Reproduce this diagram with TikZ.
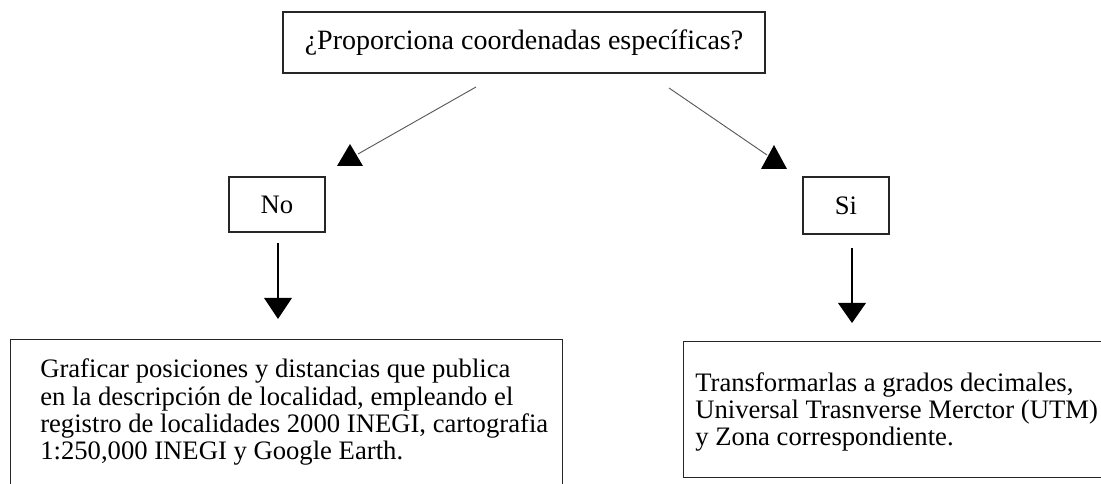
\documentclass[tikz,border=0pt]{standalone}
\usepackage{fontspec}
\setmainfont{Liberation Serif}
\usetikzlibrary{calc}
\begin{document}
\begin{tikzpicture}[x=0.75pt,y=-0.75pt,
  box/.style={draw=black!85, line width=0.9pt, inner sep=0pt},
  diag/.style={draw=black!65, line width=0.7pt},
  vert/.style={draw=black, line width=0.9pt},
  head/.style={fill=black},
  lbl/.style={font=\fontsize{20}{20}\selectfont},
  body/.style={font=\fontsize{20}{20.5}\selectfont, align=left, inner sep=0pt}]
\useasboundingbox (0,0) rectangle (1101,484);
\clip (0,0) rectangle (1101,484);
% question
\node[box, minimum width=361.5pt, minimum height=45.75pt, font=\fontsize{21}{24}\selectfont] (q) at (524,42.5) {¿Proporciona coordenadas específicas?};
% answers
\node[box, minimum width=72pt, minimum height=41.25pt, lbl] (no) at (277,204.5) {No};
\node[box, minimum width=64.5pt, minimum height=42.75pt, lbl] (si) at (846,205.5) {Si};
% result boxes
\node[box, anchor=north west, minimum width=414pt, minimum height=120pt] (lbox) at (10,339) {};
\node[body, anchor=base west] (ltext) at (40,460) {Graficar posiciones y distancias que publica\\
en la descripción de localidad, empleando el\\
registro de localidades 2000 INEGI, cartografia\\
1:250,000 INEGI y Google Earth.};
\node[box, anchor=north west, minimum width=330pt, minimum height=102pt] (rbox) at (683,341) {};
\node[body, anchor=base west] (rtext) at (695,446) {Transformarlas a grados decimales,\\
Universal Trasnverse Merctor (UTM)\\
y Zona correspondiente.};
% connector end points
\coordinate (qL) at (476,87);
\coordinate (qR) at (669,88);
\coordinate (hL) at (350,144);
\coordinate (hR) at (774,145);
\coordinate (noB) at (278,243);
\coordinate (siB) at (852,248);
\coordinate (dL) at (278,319);
\coordinate (dR) at (852,323);
% diagonal connectors with upright heads
\draw[diag] (qL) -- ($(hL)+(8,10)$);
\fill[head] (hL) -- ++(-13,22) -- ++(26,0) -- cycle;
\draw[diag] (qR) -- ($(hR)+(-7,10)$);
\fill[head] (hR) -- ++(-13,24) -- ++(26,0) -- cycle;
% vertical connectors
\draw[vert] (noB) -- ($(dL)+(0,-18)$);
\fill[head] (dL) -- ++(-14,-21) -- ++(28,0) -- cycle;
\draw[vert] (siB) -- ($(dR)+(0,-18)$);
\fill[head] (dR) -- ++(-14,-20) -- ++(28,0) -- cycle;
\end{tikzpicture}
\end{document}
